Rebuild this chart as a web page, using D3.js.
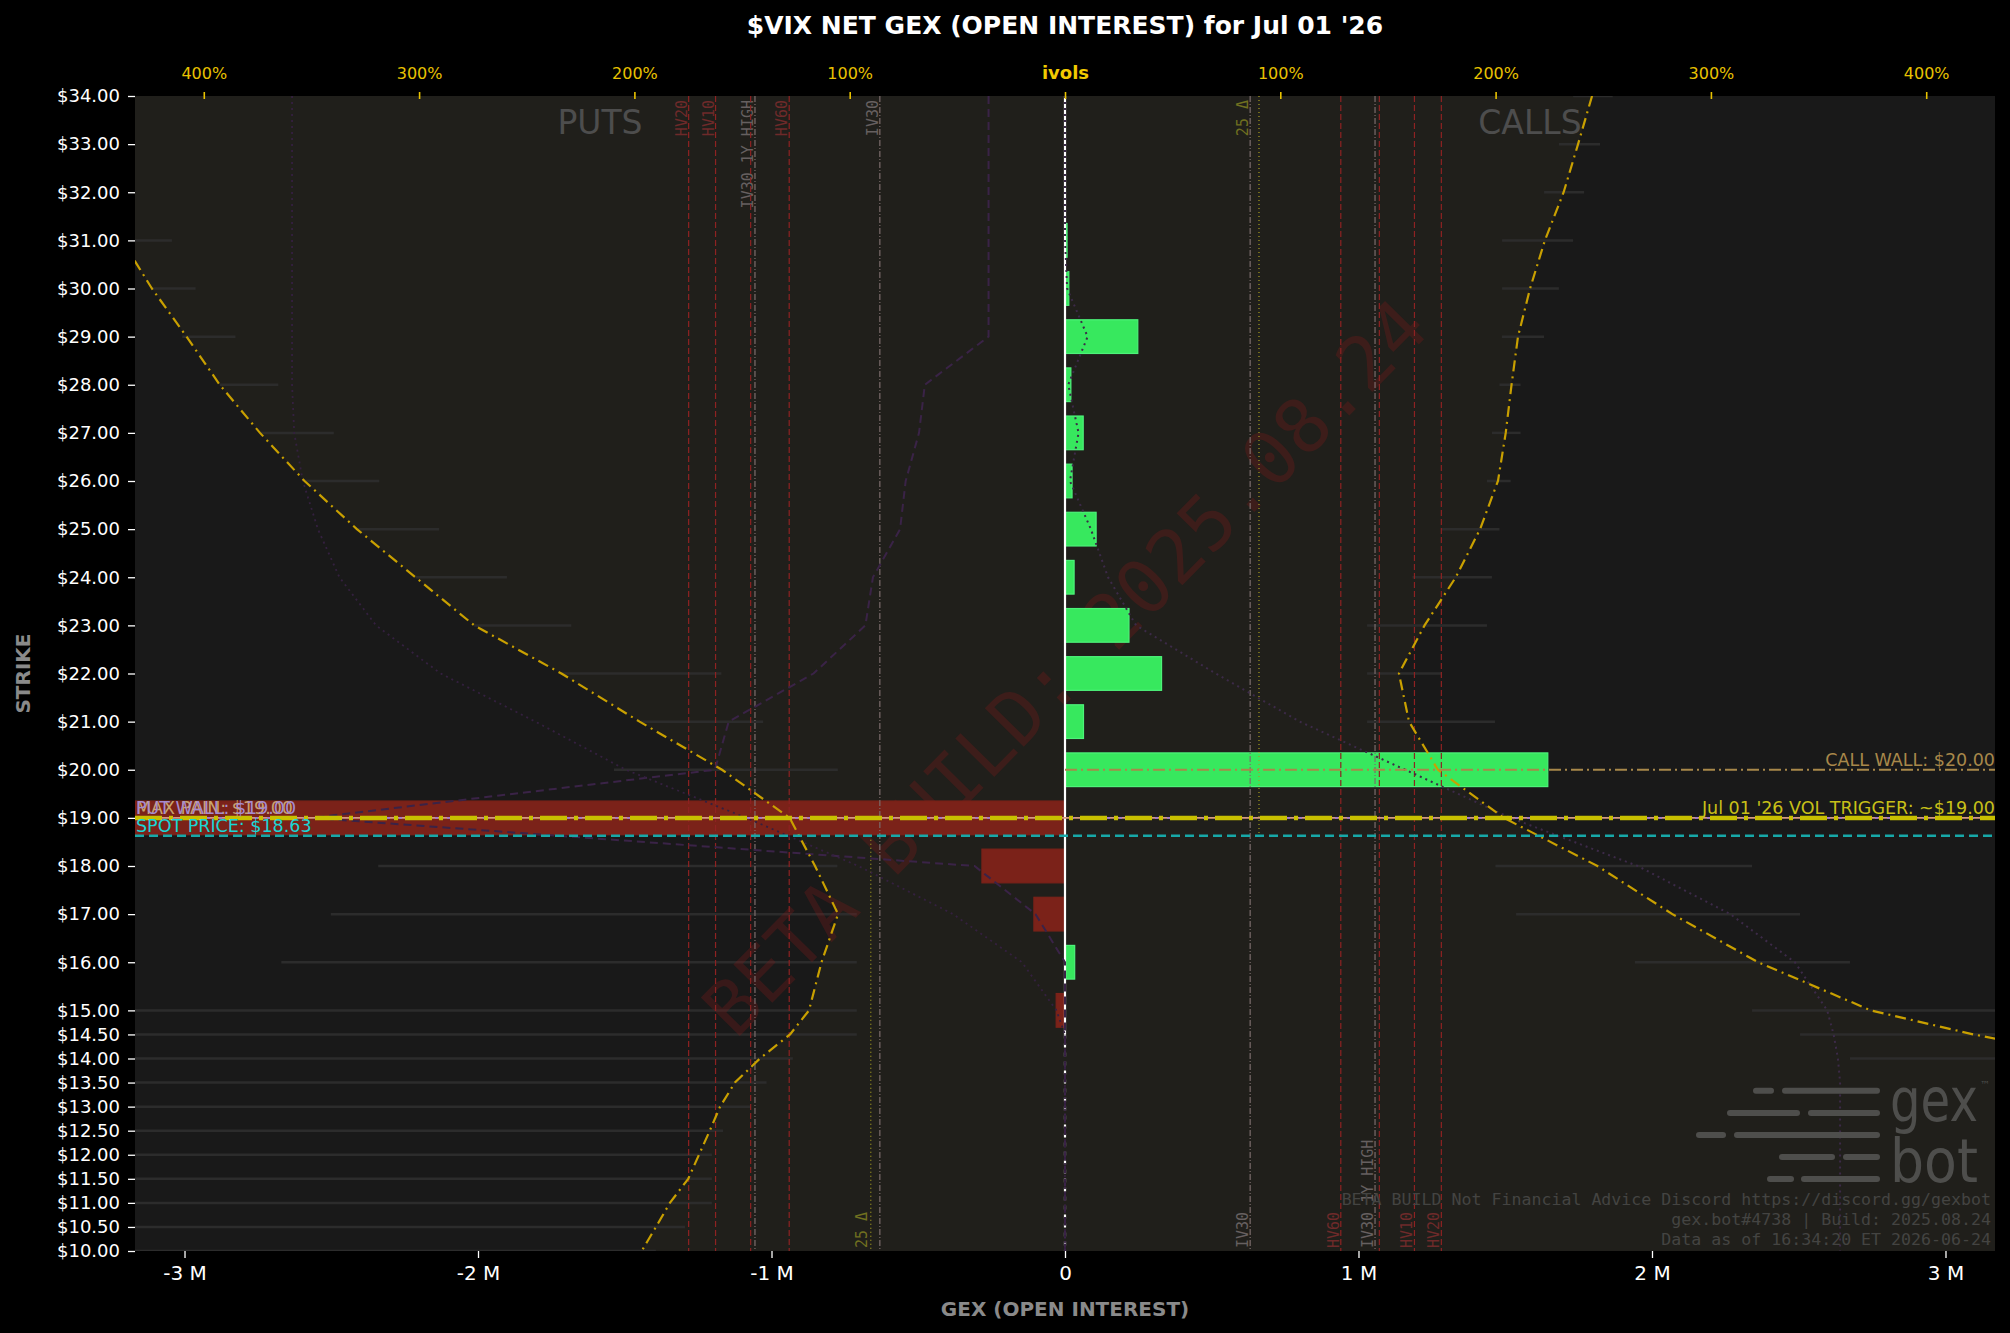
<!DOCTYPE html>
<html>
<head>
<meta charset="utf-8">
<script src="https://cdn.jsdelivr.net/npm/d3@7"></script>
<style>
  html, body { margin: 0; padding: 0; background: #000; }
  svg { display: block; }
  text { font-family: "DejaVu Sans", sans-serif; }
</style>
</head>
<body>
<div id="chart"></div>
<script>
// ---- values ----
const strikes = [34, 33, 32, 31, 30, 29, 28, 27, 26, 25, 24, 23, 22, 21, 20, 19, 18, 17, 16, 15,
                 14.5, 14, 13.5, 13, 12.5, 12, 11.5, 11, 10.5, 10];
// net gex, millions
const netGex = [0, 0, 0, 0.007, 0.013, 0.248, 0.02, 0.062, 0.024, 0.106, 0.031, 0.218, 0.329, 0.063, 1.645,
                -3.169, -0.283, -0.106, 0.033, -0.03, 0, 0, 0, 0, 0, 0, 0, 0, 0, 0];
// implied vols (1.0 = 100%)
const callIv = [2.448, 2.383, 2.316, 2.229, 2.16, 2.104, 2.074, 2.047, 2.011, 1.928, 1.815, 1.67, 1.551, 1.598, 1.732,
                2.038, 2.473, 2.821, 3.219, 3.743, 4.22, 4.8, 5.2, 5.6, 6.0, 6.4, 6.8, 7.2, 7.6, 8.0];
const putIv = [4.7, 4.6, 4.5, 4.38, 4.241, 4.08, 3.926, 3.739, 3.532, 3.289, 3.017, 2.744, 2.339, 1.976, 1.593,
               1.279, 1.161, 1.054, 1.131, 1.189, 1.277, 1.417, 1.533, 1.602, 1.65, 1.7, 1.75, 1.835, 1.9, 1.966];
// iv ranges per strike
const putRangeOuter = [null, null, null, 4.4, 4.241, 4.1, 3.926, 3.739, 3.532, 3.289, 3.017, 2.744, 2.339, 1.976, 2.095,
                       null, 3.19, 3.41, 3.64, 4.6, 4.6, 4.6, 4.6, 4.6, 4.6, 4.6, 4.6, 4.6, 4.6, 4.6];
const putRangeInner = [null, null, null, 4.148, 4.038, 3.853, 3.654, 3.396, 3.185, 2.907, 2.592, 2.293, 1.596, 1.402, 1.055,
                       null, 1.057, 0.967, 0.967, 0.967, 0.967, 1.264, 1.386, 1.459, 1.588, 1.64, 1.64, 1.64, 1.765, 1.9];
const callRangeLo = [2.36, 2.294, 2.225, 2.03, 2.03, 2.029, 2.018, 1.983, 1.96, 1.749, 1.614, 1.403, 1.403, 1.403, null,
                     null, 1.999, 2.095, 2.647, 3.191, 3.414, 3.646, null, null, null, null, null, null, null, null];
const callRangeHi = [2.544, 2.485, 2.411, 2.36, 2.294, 2.225, 2.116, 2.116, 2.07, 2.018, 1.983, 1.96, 1.749, 1.997, null,
                     null, 3.191, 3.414, 3.646, 4.6, 4.6, 4.6, null, null, null, null, null, null, null, null];
// faint reference curves
const putDotted = [3.59, 3.59, 3.59, 3.59, 3.59, 3.59, 3.59, 3.58, 3.54, 3.47, 3.37, 3.2, 2.9, 2.46, 2.04,
                   1.48, 0.96, 0.52, 0.2, 0.04, 0, 0, 0, 0, 0, 0, 0, 0, 0, 0];
const callDotted = [0, 0, 0, 0, 0.01, 0.105, 0.015, 0.063, 0.023, 0.12, 0.2, 0.33, 0.7, 1.09, 1.58,
                    2.07, 2.66, 3.09, 3.39, 3.54, 3.57, 3.59, 3.6, 3.6, 3.6, 3.6, 3.6, 3.6, 3.6, 3.6];
const putDashed = [0.355, 0.355, 0.355, 0.355, 0.355, 0.355, 0.651, 0.678, 0.74, 0.766, 0.892, 0.927, 1.168, 1.562, 1.626,
                   3.497, 0.42, 0.137, 0, 0, 0, 0, 0, 0, 0, 0, 0, 0, 0, 0];

// vol reference levels (both sides)
const levelNames = ["IV30", "HV60", "IV30 1Y HIGH", "", "HV10", "HV20"];
const levelValues = [0.86, 1.281, 1.44, 1.46, 1.623, 1.748];
const levelKinds = ["iv", "hv", "iv", "hv", "hv", "hv"];
const delta25Put = 0.902, delta25Call = 0.901;

const spotPrice = 18.63, volTrigger = 19, callWall = 20, putWall = 19, maxPain = 19;

const gexTicks = [-3, -2, -1, 0, 1, 2, 3];
const ivTicks = [-4, -3, -2, -1, 0, 1, 2, 3, 4];

// ---- layout ----
const W = 2010, H = 1333;
const L = 135, R = 1995, T = 96, B = 1251;

const svg = d3.select("#chart").append("svg")
    .attr("width", W).attr("height", H)
    .style("background", "#000");

const y = d3.scaleLinear().domain([10, 34]).range([B, T]);
const xGex = d3.scaleLinear().domain([-3.1687, 3.1687]).range([L, R]);
const xIv = d3.scaleLinear().domain([-4.3195, 4.3195]).range([L, R]);

svg.append("defs").append("clipPath").attr("id", "plotClip")
    .append("rect").attr("x", L).attr("y", T).attr("width", R - L).attr("height", B - T);

const rows = strikes.map((s, i) => ({
    s, gex: netGex[i], call: callIv[i], put: putIv[i],
    po: putRangeOuter[i], pi: putRangeInner[i], cl: callRangeLo[i], ch: callRangeHi[i],
    pDot: putDotted[i], cDot: callDotted[i], pDash: putDashed[i]
}));

const plot = svg.append("g").attr("clip-path", "url(#plotClip)");

plot.append("rect").attr("x", L).attr("y", T).attr("width", R - L).attr("height", B - T)
    .attr("fill", "#191919");

// tint between centre and iv curves
const areaPut = d3.area().y(d => y(d.s)).x0(xIv(0)).x1(d => xIv(-d.put));
const areaCall = d3.area().y(d => y(d.s)).x0(xIv(0)).x1(d => xIv(d.call));
plot.append("path").datum(rows).attr("d", areaPut).attr("fill", "#201f1b");
plot.append("path").datum(rows).attr("d", areaCall).attr("fill", "#201f1b");

// iv range segments
plot.selectAll(".pseg").data(rows.filter(d => d.po != null)).enter().append("line")
    .attr("x1", d => xIv(-d.po)).attr("x2", d => xIv(-d.pi))
    .attr("y1", d => y(d.s)).attr("y2", d => y(d.s))
    .attr("stroke", "#2c2c2c").attr("stroke-width", 2.5);
plot.selectAll(".cseg").data(rows.filter(d => d.cl != null)).enter().append("line")
    .attr("x1", d => xIv(d.cl)).attr("x2", d => xIv(d.ch))
    .attr("y1", d => y(d.s)).attr("y2", d => y(d.s))
    .attr("stroke", "#2c2c2c").attr("stroke-width", 2.5);

// watermark
plot.append("text")
    .attr("transform", `translate(${(L + R) / 2 + 4},${(T + B) / 2 - 2}) rotate(-45.5)`)
    .attr("text-anchor", "middle").attr("dominant-baseline", "middle")
    .style("font-family", "'DejaVu Sans Mono', monospace").style("font-size", "75px")
    .attr("fill", "#8b1a1a").attr("opacity", 0.27)
    .text("BETA BUILD: 2025.08.24");

// bars
plot.selectAll(".bar").data(rows.filter(d => d.gex !== 0)).enter().append("rect")
    .attr("x", d => xGex(Math.min(0, d.gex)))
    .attr("width", d => Math.abs(xGex(d.gex) - xGex(0)))
    .attr("y", d => y(d.s + 0.35))
    .attr("height", d => y(d.s - 0.35) - y(d.s + 0.35))
    .attr("fill", d => d.gex > 0 ? "#37e85e" : "#7b2219")
    .attr("stroke", d => d.gex > 0 ? "#4df27a" : "#7b2219")
    .attr("stroke-width", 1.2);

// vertical vol levels
const levelColor = k => k === "hv" ? "#8e2222" : "#7c6c6c";
const labelColor = k => k === "hv" ? "#6e2a2a" : "#666060";
levelValues.forEach((v, i) => {
    [-1, 1].forEach(side => {
        plot.append("line")
            .attr("x1", xIv(side * v)).attr("x2", xIv(side * v))
            .attr("y1", T).attr("y2", B)
            .attr("stroke", levelColor(levelKinds[i])).attr("stroke-width", 1.2)
            .attr("stroke-dasharray", levelKinds[i] === "hv" ? "6,3" : "6,2,1,2");
        if (levelNames[i]) {
            const lx = xIv(side * v) - 2;
            const ly = side < 0 ? T + 4 : B - 3;
            plot.append("text")
                .attr("transform", `translate(${lx},${ly}) rotate(-90)`)
                .attr("text-anchor", side < 0 ? "end" : "start")
                .style("font-family", "'DejaVu Sans Mono', monospace").style("font-size", "15px")
                .attr("fill", labelColor(levelKinds[i]))
                .text(levelNames[i]);
        }
    });
});
// 25 delta
plot.append("line").attr("x1", xIv(-delta25Put)).attr("x2", xIv(-delta25Put))
    .attr("y1", y(spotPrice)).attr("y2", B)
    .attr("stroke", "#a8a020").attr("stroke-width", 1.2).attr("stroke-dasharray", "1,3");
plot.append("line").attr("x1", xIv(delta25Call)).attr("x2", xIv(delta25Call))
    .attr("y1", T).attr("y2", y(spotPrice))
    .attr("stroke", "#a8a020").attr("stroke-width", 1.2).attr("stroke-dasharray", "1,3");
plot.append("text")
    .attr("transform", `translate(${xIv(-delta25Put) - 4},${B - 3}) rotate(-90)`)
    .attr("text-anchor", "start")
    .style("font-family", "'DejaVu Sans Mono', monospace").style("font-size", "15px")
    .attr("fill", "#707020").text("25 Δ");
plot.append("text")
    .attr("transform", `translate(${xIv(delta25Call) - 11},${T + 4}) rotate(-90)`)
    .attr("text-anchor", "end")
    .style("font-family", "'DejaVu Sans Mono', monospace").style("font-size", "15px")
    .attr("fill", "#707020").text("25 Δ");

// zero line
plot.append("line").attr("x1", xGex(0)).attr("x2", xGex(0))
    .attr("y1", T).attr("y2", y(14.5))
    .attr("stroke", "#ffffff").attr("stroke-width", 2.2);
plot.append("line").attr("x1", xGex(0)).attr("x2", xGex(0))
    .attr("y1", y(14.5)).attr("y2", B)
    .attr("stroke", "#ffffff").attr("stroke-width", 2.2).attr("stroke-dasharray", "4,5");

// faint purple reference curves
const lineY = fx => d3.line().y(d => y(d.s)).x(fx);
plot.append("path").datum(rows).attr("d", lineY(d => xIv(-d.pDash)))
    .attr("fill", "none").attr("stroke", "#3a2347").attr("stroke-width", 2)
    .attr("stroke-dasharray", "8,5");
plot.append("path").datum(rows).attr("d", lineY(d => xIv(-d.pDot)))
    .attr("fill", "none").attr("stroke", "#34203f").attr("stroke-width", 1.8)
    .attr("stroke-dasharray", "2,4");
plot.append("path").datum(rows).attr("d", lineY(d => xIv(d.cDot)))
    .attr("fill", "none").attr("stroke", "#3c2a48").attr("stroke-width", 2)
    .attr("stroke-dasharray", "2,4");

// iv curves
plot.append("path").datum(rows).attr("d", lineY(d => xIv(-d.put)))
    .attr("fill", "none").attr("stroke", "#c9a000").attr("stroke-width", 2.2)
    .attr("stroke-dasharray", "11,5,2,5");
plot.append("path").datum(rows).attr("d", lineY(d => xIv(d.call)))
    .attr("fill", "none").attr("stroke", "#c9a000").attr("stroke-width", 2.2)
    .attr("stroke-dasharray", "11,5,2,5");

// horizontal levels
plot.append("line").attr("x1", xGex(0)).attr("x2", R)
    .attr("y1", y(callWall)).attr("y2", y(callWall))
    .attr("stroke", "#a8884a").attr("stroke-width", 2).attr("stroke-dasharray", "12,4,2,4");
plot.append("line").attr("x1", L).attr("x2", R)
    .attr("y1", y(putWall)).attr("y2", y(putWall))
    .attr("stroke", "#d49a82").attr("stroke-width", 1.6);
plot.append("line").attr("x1", L).attr("x2", R)
    .attr("y1", y(maxPain)).attr("y2", y(maxPain))
    .attr("stroke", "#a07ad0").attr("stroke-width", 1.6).attr("stroke-dasharray", "3,9");
plot.append("line").attr("x1", L).attr("x2", R)
    .attr("y1", y(volTrigger)).attr("y2", y(volTrigger))
    .attr("stroke", "#c8c000").attr("stroke-width", 4.5).attr("stroke-dasharray", "27,7,4,7");
plot.append("line").attr("x1", L).attr("x2", R)
    .attr("y1", y(spotPrice)).attr("y2", y(spotPrice))
    .attr("stroke", "#17a8a8").attr("stroke-width", 2.4).attr("stroke-dasharray", "9,5");

const lvlText = (x, yy, anchor, color, txt) => svg.append("text")
    .attr("x", x).attr("y", yy).attr("text-anchor", anchor)
    .style("font-size", "17.5px").attr("fill", color).text(txt);
lvlText(L + 1, y(maxPain) - 4, "start", "#c8a46e", `MAX PAIN: $${maxPain.toFixed(2)}`);
lvlText(L + 1, y(putWall) - 4, "start", "#a58ad0", `PUT WALL: $${putWall.toFixed(2)}`);
lvlText(L + 1, y(spotPrice) - 4, "start", "#19d6d6", `SPOT PRICE: $${spotPrice.toFixed(2)}`);
lvlText(R, y(callWall) - 4, "end", "#a8884a", `CALL WALL: $${callWall.toFixed(2)}`);
lvlText(R, y(volTrigger) - 4, "end", "#c8c018", `Jul 01 '26 VOL TRIGGER: ~$${volTrigger.toFixed(2)}`);

// PUTS / CALLS
svg.append("text").attr("x", xGex(-3.1687 / 2)).attr("y", 134).attr("text-anchor", "middle")
    .style("font-size", "33px").attr("fill", "#4d4d4d").text("PUTS");
svg.append("text").attr("x", xGex(3.1687 / 2)).attr("y", 134).attr("text-anchor", "middle")
    .style("font-size", "33px").attr("fill", "#4d4d4d").text("CALLS");

// logo and footer
const logo = svg.append("g");
const logoDashes = [
    [1090.7, [[1756, 1771], [1785, 1877]]],
    [1113, [[1730, 1797], [1811, 1877]]],
    [1135, [[1699, 1723], [1737, 1877]]],
    [1157, [[1782, 1832], [1846, 1877]]],
    [1179, [[1770, 1791], [1804, 1877]]]
];
logoDashes.forEach(([ly, segs]) => segs.forEach(([a, b]) => logo.append("line")
    .attr("x1", a).attr("x2", b).attr("y1", ly).attr("y2", ly)
    .attr("stroke", "#4e4e4c").attr("stroke-width", 6).attr("stroke-linecap", "round")));
logo.append("text").attr("x", 1890).attr("y", 1121).attr("textLength", 88)
    .attr("lengthAdjust", "spacingAndGlyphs").style("font-size", "60px").attr("fill", "#4e4e4c").text("gex");
logo.append("text").attr("x", 1890).attr("y", 1182).attr("textLength", 88)
    .attr("lengthAdjust", "spacingAndGlyphs").style("font-size", "60px").attr("fill", "#4e4e4c").text("bot");
logo.append("text").attr("x", 1980).attr("y", 1088).style("font-size", "10px").attr("fill", "#4e4e4c").text("™");
const footer = ["BETA BUILD Not Financial Advice Discord https://discord.gg/gexbot",
                "gex.bot#4738 | Build: 2025.08.24",
                "Data as of 16:34:20 ET 2026-06-24"];
footer.forEach((t, i) => svg.append("text")
    .attr("x", 1991).attr("y", 1205 + i * 20).attr("text-anchor", "end")
    .style("font-family", "'DejaVu Sans Mono', monospace").style("font-size", "16.6px")
    .attr("fill", "#444442").text(t));

// ---- axes ----
const yAxis = svg.append("g").attr("transform", `translate(${L},0)`)
    .call(d3.axisLeft(y).tickValues(strikes).tickSize(7).tickPadding(8)
        .tickFormat(d => "$" + d.toFixed(2)));
yAxis.select(".domain").remove();
yAxis.selectAll("line").attr("stroke", "#ffffff").attr("stroke-width", 1.3);
yAxis.selectAll("text").attr("fill", "#ffffff").style("font-size", "18px")
    .style("font-family", "'DejaVu Sans', sans-serif");

const xAxis = svg.append("g").attr("transform", `translate(0,${B})`)
    .call(d3.axisBottom(xGex).tickValues(gexTicks).tickSize(7).tickPadding(8)
        .tickFormat(d => d === 0 ? "0" : `${d} M`));
xAxis.select(".domain").remove();
xAxis.selectAll("line").attr("stroke", "#ffffff").attr("stroke-width", 1.3);
xAxis.selectAll("text").attr("fill", "#ffffff").style("font-size", "20px")
    .style("font-family", "'DejaVu Sans', sans-serif");

const topAxis = svg.append("g").attr("transform", `translate(0,${T + 3})`)
    .call(d3.axisTop(xIv).tickValues(ivTicks).tickSize(7).tickPadding(13)
        .tickFormat(d => d === 0 ? "ivols" : `${Math.abs(d) * 100}%`));
topAxis.select(".domain").remove();
topAxis.selectAll("line").attr("stroke", "#e8c200").attr("stroke-width", 1.6);
topAxis.selectAll("text").attr("fill", "#e8c200").style("font-size", "16px")
    .style("font-family", "'DejaVu Sans', sans-serif");
topAxis.selectAll("text").filter(d => d === 0)
    .style("font-weight", "bold").style("font-size", "18px").attr("fill", "#f2ca00");

// titles
svg.append("text").attr("x", (L + R) / 2).attr("y", 34).attr("text-anchor", "middle")
    .style("font-size", "25px").style("font-weight", "bold").attr("fill", "#ffffff")
    .text("$VIX NET GEX (OPEN INTEREST) for Jul 01 '26");
svg.append("text").attr("x", (L + R) / 2).attr("y", 1316).attr("text-anchor", "middle")
    .style("font-size", "20px").style("font-weight", "bold").attr("fill", "#8a8a8a")
    .text("GEX (OPEN INTEREST)");
svg.append("text").attr("transform", `translate(30,${(T + B) / 2}) rotate(-90)`)
    .attr("text-anchor", "middle")
    .style("font-size", "20px").style("font-weight", "bold").attr("fill", "#8a8a8a")
    .text("STRIKE");
</script>
</body>
</html>
